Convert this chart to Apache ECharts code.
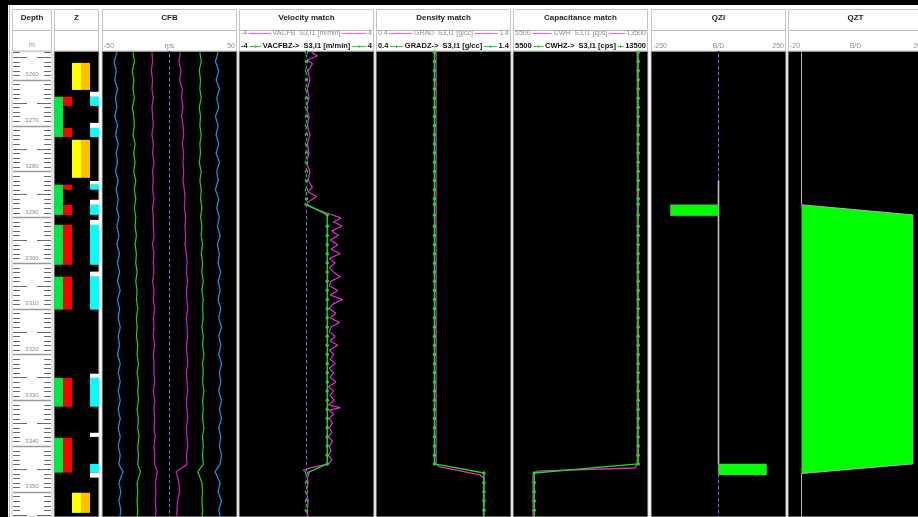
<!DOCTYPE html>
<html>
<head>
<meta charset="utf-8">
<script src="https://cdn.jsdelivr.net/npm/echarts/dist/echarts.min.js"></script>
<style>
  html, body { margin: 0; padding: 0; background: #fff; }
  #main { width: 918px; height: 517px; }
</style>
</head>
<body>
<div id="main"></div>
<script>
// depth window of the plot (m)
var DMIN = 3253.7, DMAX = 3355.5;

// depth scale labels
var depthLabels = [3260, 3270, 3280, 3290, 3300, 3310, 3320, 3330, 3340, 3350];

// Z track intervals [top, bottom] in m
var zGreen  = [[3263.7,3272.5],[3282.9,3289.5],[3291.7,3300.4],[3303.0,3310.2],[3325.1,3331.4],[3338.2,3345.8]];
var zRed    = [[3263.7,3265.7],[3270.5,3272.5],[3282.9,3284.0],[3287.3,3289.5],[3291.7,3300.4],[3303.0,3310.2],[3325.1,3331.4],[3338.2,3345.8]];
var zYellow = [[3256.3,3262.2],[3273.1,3281.4],[3350.2,3354.6]];
var zOrange = [[3256.3,3262.2],[3273.1,3281.4],[3350.2,3354.6]];
var zCyan   = [[3263.7,3265.7],[3270.5,3272.5],[3282.9,3284.0],[3287.3,3289.5],[3291.7,3300.4],[3303.0,3310.2],[3325.1,3331.4],[3343.9,3345.8]];
var zWhite  = [[3262.6,3263.7],[3269.4,3270.5],[3282.1,3282.9],[3286.2,3287.3],[3290.6,3291.7],[3301.9,3303.0],[3324.2,3325.1],[3337.1,3338.0],[3345.8,3346.9]];

// CFB spinner curves (rps), sampled at cfbDepth
var cfbDepth = [3254,3256,3258,3260,3262,3264,3266,3268,3270,3272,
                3274,3276,3278,3280,3282,3284,3286,3288,3290,3292,
                3294,3296,3298,3300,3302,3304,3306,3308,3310,3312,
                3314,3316,3318,3320,3322,3324,3326,3328,3330,3332,
                3334,3336,3338,3340,3342,3344,
                3345.6,3348,3350,3352,3354,3356];
var cfbBlueL = [-39,-41,-39.5,-40.5,-38.5,-40,-39,-40.5,-38.5,-40,
                -38,-39.5,-38.5,-40,-38,-39.5,-38,-39,-37.5,-39,
                -37.5,-39,-37,-38.5,-37,-38.5,-36.5,-38.5,-37,-38,
                -36.5,-38,-37,-38.5,-36.5,-38,-36.5,-38,-36.5,-38,
                -36.5,-38,-36.5,-38,-36.5,-37.5,
                -34.5,-37.5,-36,-37.5,-36,-37];
var cfbGreenL = [-27,-26,-27.5,-26.5,-27,-26,-27.5,-26.5,-26,-27,
                 -25.5,-26.5,-25.5,-26.5,-25,-26,-25,-26,-25,-25.5,
                 -24.5,-25.5,-24.5,-25,-24,-25,-24,-24.5,-23.5,-24.5,
                 -24,-24.5,-23.5,-24,-23,-24,-23,-23.5,-23,-24,
                 -23,-23.5,-22.5,-23.5,-23,-23.5,
                 -21.5,-24,-23.5,-24,-23.5,-24];
var cfbMagL = [-13,-12.5,-13.5,-12.5,-13,-12,-13,-12.5,-12,-13,
               -12,-12.5,-11.5,-12.5,-12,-12.5,-11.5,-12.5,-12,-12,
               -11.5,-12.5,-11.5,-12,-11.5,-12.5,-11.5,-12,-11,-12,
               -11.5,-12,-11,-12,-11.5,-11.5,-11,-12,-11,-11.5,
               -11,-11.5,-10.5,-11.5,-11,-11,
               -9,-10.5,-10,-10.5,-10,-10.5];
var cfbMagR = [8,7,8.5,7.5,9.5,9,10,9,10,10.5,
               9.5,10.5,10,10.5,10,11,11.5,11,12,11.5,
               12,11.5,12.5,13,12.5,13.5,12.5,13,13.5,12.5,
               13,13.5,12.5,13,13.5,12.5,13,13.5,12.5,13,
               13.5,12.5,13,13.5,12.5,13,
               4.8,7,7.5,6,5.5,5.5];
var cfbGreenR = [22.5,23.5,22,23,22.5,23.5,22,23,22.5,23.5,
                 22.5,23,22,23.5,22.5,23.5,23,24,23,24,
                 23.5,24.5,23.5,24.5,24,25,24,25,24.5,25,
                 24,25,24.5,25.5,24.5,25,24.5,25.5,24.5,25,
                 24.5,25.5,24.5,25,24.5,25,
                 21,24,24.5,24,24.5,24];
var cfbBlueR = [36,34,36.5,34.5,37,35,36.5,34,36,34.5,
                36.5,34.5,37,35,36,34,36.5,35,37,35.5,
                37.5,35.5,37,36,38,36,37.5,36,38,36.5,
                38.5,36.5,38,36.5,38.5,37,38,36.5,38.5,37,
                38.5,36.5,38,37,38.5,37.5,
                33.7,37.5,36,38.5,36.5,38];

// zoned (model) curves, sampled at zoneDepth
var zoneDepth = [3254,3256,3258,3260,3262,3264,3266,3268,3270,3272,
                 3274,3276,3278,3280,3282,3284,3286,3287.2,3289.5,3292,
                 3294,3296,3298,3300,3302,3304,3306,3308,3310,3312,
                 3314,3316,3318,3320,3322,3324,3326,3328,3330,3332,
                 3334,3336,3338,3340,3342,3343.9,3345.9,3348,3350,3352,
                 3354,3356];
var vacfbz = [0,0,0,0,0,0,0,0,0,0,
              0,0,0,0,0,0,0,0,1.23,1.23,
              1.23,1.23,1.23,1.23,1.23,1.23,1.23,1.23,1.23,1.23,
              1.23,1.23,1.23,1.23,1.23,1.23,1.23,1.23,1.23,1.23,
              1.23,1.23,1.23,1.23,1.23,1.23,0,0,0,0,
              0,0];
var gradz = [0.833,0.833,0.833,0.833,0.833,0.833,0.833,0.833,0.833,0.833,
             0.833,0.833,0.833,0.833,0.833,0.833,0.833,0.833,0.833,0.833,
             0.833,0.833,0.833,0.833,0.833,0.833,0.833,0.833,0.833,0.833,
             0.833,0.833,0.833,0.833,0.833,0.833,0.833,0.833,0.833,0.833,
             0.833,0.833,0.833,0.833,0.833,0.833,1.2,1.2,1.2,1.2,
             1.2,1.2];
var cwhz = [12920,12920,12920,12920,12920,12920,12920,12920,12920,12920,
            12920,12920,12920,12920,12920,12920,12920,12920,12920,12920,
            12920,12920,12920,12920,12920,12920,12920,12920,12920,12920,
            12920,12920,12920,12920,12920,12920,12920,12920,12920,12920,
            12920,12920,12920,12920,12920,12920,6760,6760,6760,6760,
            6760,6760];

// measured curves [depth, value]
var vacfb = [[3254,0.3],[3254.8,0.65],[3255.6,0.05],[3256.5,0.35],[3258,0.1],[3260,0.2],[3262,0.05],[3264,0.15],
             [3266,0.0],[3268,0.15],[3270,0.05],[3272,0.2],[3274,0.05],[3276,0.15],[3278,0.0],[3280,0.2],
             [3282,0.1],[3283.5,0.35],[3284.5,0.1],[3285.5,0.6],[3286.3,0.25],[3287.2,-0.1],[3288.3,0.6],
             [3289.2,1.3],[3290.2,2.05],[3291,1.6],[3292,2.1],[3293,1.5],[3294,1.9],[3295,1.4],[3296,1.85],
             [3297,1.45],[3298,2.0],[3299,1.35],[3300,1.7],[3301,1.35],[3302,1.6],[3303,2.0],[3304,1.45],
             [3305,1.35],[3306,1.85],[3307,1.4],[3308,2.15],[3309,1.55],[3310,1.35],[3311,1.75],[3312,1.4],
             [3313,1.95],[3314,1.45],[3315,1.35],[3316,1.7],[3317,1.4],[3318,1.85],[3319,1.35],[3320,1.6],
             [3321,1.4],[3322,1.7],[3323,1.35],[3324,1.6],[3325,1.4],[3326,1.75],[3327,1.3],[3328,1.6],
             [3329,1.4],[3330,1.65],[3331,1.3],[3331.6,2.0],[3332.2,1.35],[3333,1.6],[3334,1.35],[3335,1.55],
             [3336,1.35],[3337,1.5],[3338,1.3],[3339,1.55],[3340,1.35],[3341,1.45],[3342,1.3],[3343,1.5],
             [3343.9,1.3],[3344.7,0.3],[3345.3,-0.2],[3346,0.15],[3347,0.05],[3348,0.1],[3350,0.0],
             [3352,0.1],[3354,0.05],[3356,0.1]];
var grad = [[3254,0.845],[3343.9,0.845],[3344.5,0.865],[3346.3,1.17],[3346.9,1.196],[3356,1.196]];
var cwh  = [[3254,12860],[3343.7,12860],[3344.8,12730],[3345.5,6920],[3346.1,6690],[3356,6690]];

// QZI zones [top, bottom, value] and QZI curve
var qzi = [[3287.3,3289.7,-178],[3343.9,3346.3,178]];
var qziCurveDepth = [3282, 3343.9];
var qziCurveValue = [0, 0];
// QZT curve
var qztDepth = [3254, 3287.3, 3289.5, 3343.9, 3346.0, 3356];
var qztValue = [-16, -16, 17, 17, -16, -16];
var QZT_BASE = -16;

// ---------------- layout ----------------
var GRID_TOP = 51, GRID_H = 466;
var tracks = [
  {key:'depth', title:'Depth', left:12, width:40, min:0, max:1},
  {key:'z', title:'Z', left:54, width:45, min:0, max:5},
  {key:'cfb', title:'CFB', left:102, width:135, min:-50, max:50},
  {key:'vel', title:'Velocity match', left:239, width:135, min:-4, max:4},
  {key:'den', title:'Density match', left:376, width:135, min:0.4, max:1.4},
  {key:'cap', title:'Capacitance match', left:513, width:135, min:5500, max:13500},
  {key:'qzi', title:'QZI', left:651, width:135, min:-250, max:250},
  {key:'qzt', title:'QZT', left:788, width:135, min:-20, max:20}
];
var FONT = '"Liberation Sans", Arial, sans-serif';
var F_TITLE = 'bold 8px ' + FONT;
var F_ROW1 = '7px ' + FONT;
var F_ROW2 = 'bold 7.5px ' + FONT;
var GREEN = '#22d822', PINK = '#e232c8';

var grids = [], xAxes = [], yAxes = [], series = [], g = [];
tracks.forEach(function (t, i) {
  grids.push({left: t.left, top: GRID_TOP, width: t.width, height: GRID_H, show: true,
    outerBoundsMode: 'none', containLabel: false,
    backgroundColor: t.key === 'depth' ? '#fff' : '#000', borderColor: '#c8c8c8', borderWidth: 1});
  xAxes.push({type: 'value', gridIndex: i, min: t.min, max: t.max, show: false});
  yAxes.push({type: 'value', gridIndex: i, min: DMIN, max: DMAX, inverse: true, show: false});
});

function pairs(depths, vals) {
  return depths.map(function (d, i) { return [vals[i], d]; });
}
function curve(ti, data, color, extra) {
  var s = {type: 'line', xAxisIndex: ti, yAxisIndex: ti, data: data, symbol: 'none',
    lineStyle: {color: color, width: 1.3}, itemStyle: {color: color}, silent: true, z: 3, clip: true};
  for (var k in extra) s[k] = extra[k];
  series.push(s);
}
function zoned(ti, vals) {
  curve(ti, pairs(zoneDepth, vals), GREEN, {symbol: 'circle', symbolSize: 3.5, showSymbol: true, z: 4,
    lineStyle: {color: GREEN, width: 1.4}});
}
function centerLine(ti, color) {
  series.push({type: 'line', xAxisIndex: ti, yAxisIndex: ti, data: [], silent: true, z: 2,
    markLine: {silent: true, symbol: 'none', label: {show: false}, animation: false,
      lineStyle: {color: '#7a7a7a', type: 'solid', width: 1}, data: [{xAxis: 0}]}});
  series.push({type: 'line', xAxisIndex: ti, yAxisIndex: ti, data: [], silent: true, z: 2,
    markLine: {silent: true, symbol: 'none', label: {show: false}, animation: false,
      lineStyle: {color: color, type: [3, 3], width: 1.2}, data: [{xAxis: 0}]}});
}

// depth track: tick marks and labels
var depthTicks = [];
for (var d = 3254; d <= 3355; d++) depthTicks.push([d]);
series.push({type: 'custom', xAxisIndex: 0, yAxisIndex: 0, data: depthTicks, silent: true,
  renderItem: function (params, api) {
    var dd = api.value(0), cs = params.coordSys;
    var y = Math.round(api.coord([0, dd])[1]) + 0.5;
    var x0 = cs.x + 1, x1 = cs.x + cs.width - 1;
    if (dd % 10 === 0) {
      return {type: 'line', shape: {x1: x0, y1: y, x2: x1, y2: y}, style: {stroke: '#9a9a9a', lineWidth: 1.5}};
    }
    var len = dd % 5 === 0 ? 14 : 7;
    return {type: 'group', children: [
      {type: 'line', shape: {x1: x0, y1: y, x2: x0 + len, y2: y}, style: {stroke: '#6a6a6a', lineWidth: 1}},
      {type: 'line', shape: {x1: x1 - len, y1: y, x2: x1, y2: y}, style: {stroke: '#6a6a6a', lineWidth: 1}}
    ]};
  }});
series.push({type: 'custom', xAxisIndex: 0, yAxisIndex: 0, data: depthLabels.map(function (v) { return [v]; }), silent: true,
  renderItem: function (params, api) {
    var p = api.coord([0.5, api.value(0)]);
    return {type: 'text', x: p[0], y: p[1] - 5,
      style: {text: String(api.value(0)), font: '6px ' + FONT, fill: '#8a8a8a', textAlign: 'center', textVerticalAlign: 'middle'}};
  }});

// Z track
var zColors = ['#00e64a', '#ff0000', '#ffff00', '#ffc000', '#00ffff', '#ffffff'];
var zItems = [];
function addZ(list, col, ci) { list.forEach(function (r) { zItems.push([col, r[0], r[1], ci]); }); }
addZ(zGreen, 0, 0); addZ(zRed, 1, 1); addZ(zYellow, 2, 2); addZ(zOrange, 3, 3); addZ(zCyan, 4, 4); addZ(zWhite, 4, 5);
series.push({type: 'custom', xAxisIndex: 1, yAxisIndex: 1, data: zItems, silent: true,
  renderItem: function (params, api) {
    var col = api.value(0);
    var p0 = api.coord([col, api.value(1)]), p1 = api.coord([col + 1, api.value(2)]);
    return {type: 'rect', shape: {x: p0[0], y: p0[1], width: p1[0] - p0[0], height: p1[1] - p0[1]},
      style: {fill: zColors[api.value(3)]}};
  }});

// CFB
centerLine(2, '#0a0a80');
curve(2, pairs(cfbDepth, cfbBlueL), '#1a8fd6');
curve(2, pairs(cfbDepth, cfbGreenL), '#22c422');
curve(2, pairs(cfbDepth, cfbMagL), '#c81eb4');
curve(2, pairs(cfbDepth, cfbMagR), '#c81eb4');
curve(2, pairs(cfbDepth, cfbGreenR), '#22c422');
curve(2, pairs(cfbDepth, cfbBlueR), '#1a8fd6');

// Velocity
centerLine(3, '#0a0a80');
curve(3, vacfb.map(function (p) { return [p[1], p[0]]; }), PINK, {lineStyle: {color: PINK, width: 1.2}});
zoned(3, vacfbz);
// Density
curve(4, grad.map(function (p) { return [p[1], p[0]]; }), PINK);
zoned(4, gradz);
// Capacitance
curve(5, cwh.map(function (p) { return [p[1], p[0]]; }), PINK);
zoned(5, cwhz);

// QZI
centerLine(6, '#1010a0');
curve(6, pairs(qziCurveDepth, qziCurveValue), '#bdbdbd', {z: 6, lineStyle: {color: '#bdbdbd', width: 1.6}});
series.push({type: 'custom', xAxisIndex: 6, yAxisIndex: 6, data: qzi, silent: true, z: 7,
  renderItem: function (params, api) {
    var p0 = api.coord([0, api.value(0)]), p1 = api.coord([api.value(2), api.value(1)]);
    return {type: 'rect', shape: {x: Math.min(p0[0], p1[0]), y: p0[1], width: Math.abs(p1[0] - p0[0]), height: p1[1] - p0[1]},
      style: {fill: '#00ff00', stroke: '#9a9a9a', lineWidth: 0.5}};
  }});

// QZT: fill between curve and base
var qztSegs = [];
for (var i = 0; i < qztDepth.length - 1; i++) qztSegs.push([qztDepth[i], qztValue[i], qztDepth[i + 1], qztValue[i + 1]]);
series.push({type: 'custom', xAxisIndex: 7, yAxisIndex: 7, data: qztSegs, silent: true, z: 3,
  renderItem: function (params, api) {
    var d1 = api.value(0), v1 = api.value(1), d2 = api.value(2), v2 = api.value(3);
    if (v1 <= QZT_BASE && v2 <= QZT_BASE) return null;
    var pts = [api.coord([QZT_BASE, d1]), api.coord([v1, d1]), api.coord([v2, d2]), api.coord([QZT_BASE, d2])];
    return {type: 'polygon', shape: {points: pts}, style: {fill: '#00ff00'}};
  }});
curve(7, pairs(qztDepth, qztValue), '#b0b0b0', {z: 4, lineStyle: {color: '#b0b0b0', width: 1}});

// ---------------- header ----------------
var mctx = document.createElement('canvas').getContext('2d');
function tw(s, font) { mctx.font = font; return mctx.measureText(s).width; }
function txt(x, y, s, font, fill, align) {
  g.push({type: 'text', x: x, y: y, silent: true,
    style: {text: s, font: font, fill: fill, textAlign: align, textVerticalAlign: 'middle'}});
}
function hline(x1, x2, y, color, w) {
  g.push({type: 'line', silent: true, shape: {x1: x1, y1: y, x2: x2, y2: y}, style: {stroke: color, lineWidth: w || 1}});
}
function plus(x, y, color) {
  hline(x - 1.5, x + 1.5, y, color, 1);
  g.push({type: 'line', silent: true, shape: {x1: x, y1: y - 1.5, x2: x, y2: y + 1.5}, style: {stroke: color, lineWidth: 1}});
}
function lineRow(t, y, lo, hi, label, font, color, lineColor, withPlus) {
  var x0 = t.left, x1 = t.left + t.width, cx = (x0 + x1) / 2, pad = 2;
  txt(x0 + pad, y, lo, font, color, 'left');
  txt(x1 - pad, y, hi, font, color, 'right');
  txt(cx, y, label, font, color, 'center');
  var a1 = x0 + pad + tw(lo, font) + 1.5, a2 = cx - tw(label, font) / 2 - 1.5;
  var b1 = cx + tw(label, font) / 2 + 1.5, b2 = x1 - pad - tw(hi, font) - 1.5;
  hline(a1, a2, Math.round(y) + 0.5, lineColor, 1);
  hline(b1, b2, Math.round(y) + 0.5, lineColor, 1);
  if (withPlus) { plus((a1 + a2) / 2, Math.round(y) + 0.5, lineColor); plus((b1 + b2) / 2, Math.round(y) + 0.5, lineColor); }
}
function scaleRow(t, y, lo, mid, hi) {
  var x0 = t.left, x1 = t.left + t.width;
  txt(x0 + 2, y, lo, F_ROW1, '#8c8c8c', 'left');
  txt((x0 + x1) / 2, y, mid, F_ROW1, '#8c8c8c', 'center');
  txt(x1 - 2, y, hi, F_ROW1, '#8c8c8c', 'right');
}

// outer black frame
g.push({type: 'rect', silent: true, shape: {x: 0, y: 0, width: 918, height: 5}, style: {fill: '#000'}});
g.push({type: 'rect', silent: true, shape: {x: 0, y: 0, width: 8, height: 517}, style: {fill: '#000'}});
g.push({type: 'line', silent: true, shape: {x1: 9.5, y1: 5, x2: 9.5, y2: 517}, style: {stroke: '#bdbdbd', lineWidth: 1}});

var rowDefs = {
  vel: ['-4', '4', 'VACFB  S3,I1 [m/min]', 'VACFBZ->  S3,I1 [m/min]'],
  den: ['0.4', '1.4', 'GRAD  S3,I1 [g/cc]', 'GRADZ->  S3,I1 [g/cc]'],
  cap: ['5500', '13500', 'CWH  S3,I1 [cps]', 'CWHZ->  S3,I1 [cps]']
};
tracks.forEach(function (t) {
  var x0 = t.left, x1 = t.left + t.width, cx = (x0 + x1) / 2;
  g.push({type: 'rect', silent: true, shape: {x: x0 + 0.5, y: 9.5, width: t.width - 1, height: 41.5},
    style: {fill: '#fff', stroke: '#c4c4c4', lineWidth: 1}});
  hline(x0 + 1, x1 - 1, 30.5, '#bcbcbc', 1);
  txt(cx, 18, t.title, F_TITLE, '#222', 'center');
  if (t.key === 'depth') txt(cx, 45, 'm', F_ROW1, '#8c8c8c', 'center');
  if (t.key === 'cfb') scaleRow(t, 46, '-50', 'rps', '50');
  if (t.key === 'qzi') scaleRow(t, 46, '-250', 'B/D', '250');
  if (t.key === 'qzt') scaleRow(t, 46, '-20', 'B/D', '20');
  var r = rowDefs[t.key];
  if (r) {
    lineRow(t, 33, r[0], r[1], r[2], F_ROW1, '#8c8c8c', '#ff5ae0', false);
    lineRow(t, 46, r[0], r[1], r[3], F_ROW2, '#111', GREEN, true);
  }
});

var chart = echarts.init(document.getElementById('main'));
chart.setOption({
  animation: false,
  backgroundColor: '#fff',
  grid: grids,
  xAxis: xAxes,
  yAxis: yAxes,
  series: series,
  graphic: g
});
</script>
</body>
</html>
